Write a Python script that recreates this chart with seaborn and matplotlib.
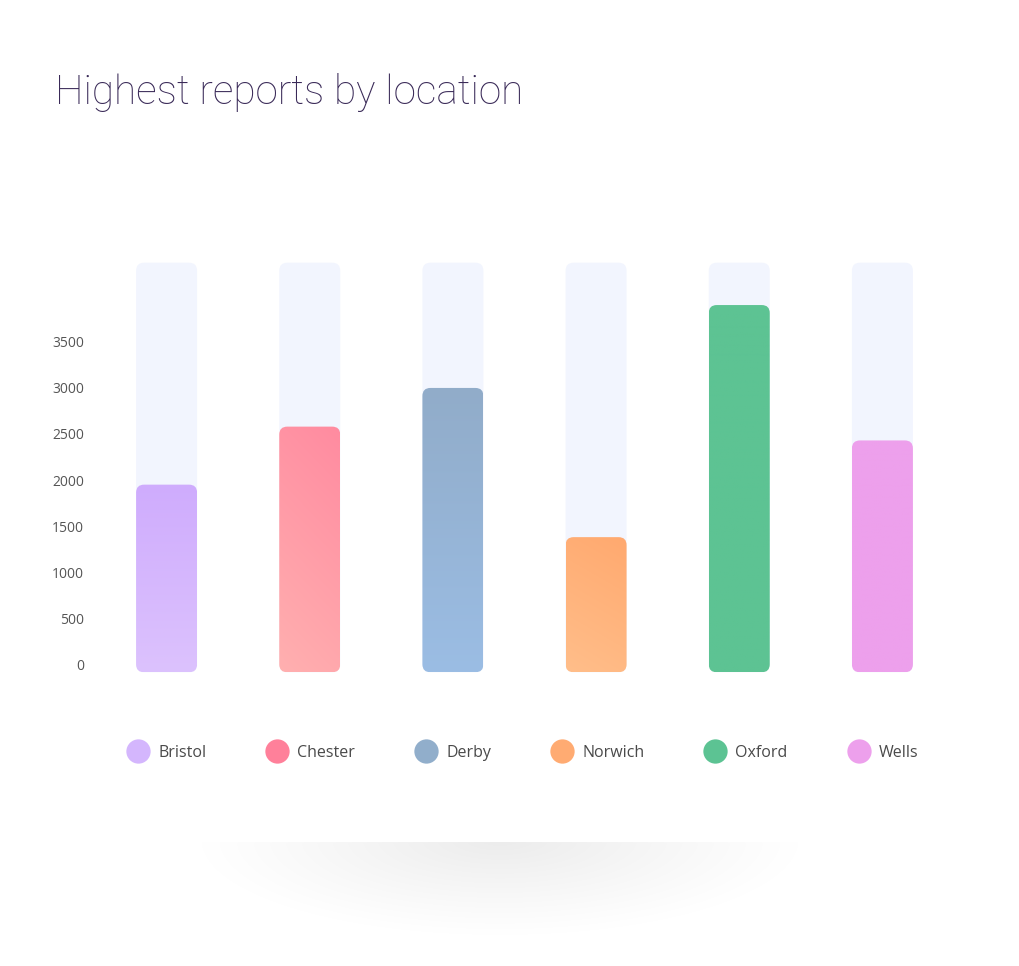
import numpy as np
import pandas as pd
import seaborn as sns
from matplotlib import colors, pyplot as plt
from matplotlib.lines import Line2D
from matplotlib.patches import FancyBboxPatch

locations = ["Bristol", "Chester", "Derby", "Norwich", "Oxford", "Wells"]
reports = [1950, 2580, 3000, 1380, 3900, 2430]
track_max = 4360
yticks = [0, 500, 1000, 1500, 2000, 2500, 3000, 3500]

# gradient colours: (top-right, bottom-left, diagonal?)
bar_grad = {
    "Bristol": ("#cfacfd", "#dcc2fd", False),
    "Chester": ("#ff8ba0", "#ffb0b0", True),
    "Derby": ("#91acc9", "#9bbde4", False),
    "Norwich": ("#ffa96f", "#ffbe8a", True),
    "Oxford": ("#5dc393", "#5dc393", False),
    "Wells": ("#eda0ec", "#eda0ec", False),
}
legend_colors = ["#d4b6fd", "#ff809a", "#91aecb", "#ffab72", "#5cc393", "#eda0ec"]

W, H = 1019, 966
fig = plt.figure(figsize=(W / 100, H / 100), dpi=100)
fig.patch.set_facecolor("white")

# card shadow under the chart
sh = fig.add_axes([170 / W, 1 - 960 / H, 660 / W, 120 / H])
gx = np.linspace(-1, 1, 400)
gy = np.linspace(0, 1, 120)
XX, YY = np.meshgrid(gx, gy)
d = np.sqrt((XX / 0.97) ** 2 + (YY / 0.85) ** 2)
shade = np.clip(1 - d, 0, 1) ** 1.1 * 0.08
shade[:3] = 0
img = np.ones((120, 400, 4))
img[..., :3] = 0.0
img[..., 3] = shade
sh.imshow(img, extent=(0, 1, 1, 0), aspect="auto", interpolation="bilinear")
sh.set_axis_off()

ax = fig.add_axes([95 / W, 1 - 673 / H, (954 - 95) / W, (673 - 259) / H])
df = pd.DataFrame({"location": locations, "reports": reports})
sns.barplot(data=df, x="location", y="reports", ax=ax, width=0.426,
            color="white", saturation=1)
ax.set_xlim(-0.5, 5.5)
ax.set_ylim(-95, 4400)

bbox = ax.get_window_extent()
sx = bbox.width / 6.0
sy = bbox.height / (4400 + 95)
aspect = sx / sy
r = 8 / sx
base = ax.get_ylim()[0] + 8

for p, loc in zip(list(ax.patches), locations):
    x0, w, h = p.get_x(), p.get_width(), p.get_height()
    p.set_visible(False)
    track = FancyBboxPatch((x0, base), w, track_max - base,
                           boxstyle=f"round,pad=0,rounding_size={r}",
                           mutation_aspect=aspect, fc="#f2f5fe", ec="none", zorder=1)
    ax.add_patch(track)
    bar = FancyBboxPatch((x0, base), w, h - base,
                         boxstyle=f"round,pad=0,rounding_size={r}",
                         mutation_aspect=aspect, fc="none", ec="none", zorder=2)
    ax.add_patch(bar)
    c_top, c_bot, diag = bar_grad[loc]
    top = np.array(colors.to_rgb(c_top))
    bot = np.array(colors.to_rgb(c_bot))
    ty = np.linspace(0, 1, 200)[:, None]
    tx = np.linspace(0, 1, 30)[None, :]
    t = ty * 0.8 + (1 - tx) * 0.2 if diag else ty + 0 * tx
    t = np.clip(t, 0, 1)
    grad = top[None, None, :] * (1 - t[..., None]) + bot[None, None, :] * t[..., None]
    im = ax.imshow(grad, extent=(x0, x0 + w, base, h), aspect="auto",
                   origin="upper", zorder=2, interpolation="bilinear")
    im.set_clip_path(bar)

ax.set_xlim(-0.5, 5.5)
ax.set_ylim(-95, 4400)
ax.set_yticks(yticks)
ax.set_yticklabels([str(v) for v in yticks], fontfamily="Open Sans",
                   fontsize=10, color="#555555")
ax.tick_params(axis="y", length=0, pad=8)
ax.set_xticks([])
ax.set_xlabel("")
ax.set_ylabel("")
for s in ax.spines.values():
    s.set_visible(False)
ax.set_facecolor("none")

fig.text(55 / W, 1 - 92 / H, "Highest reports by location", fontfamily="Roboto",
         fontweight="light", fontsize=29.2, color="#3a2a58", va="center", ha="left")

handles = [Line2D([], [], marker="o", ls="none", markersize=17.5,
                  markerfacecolor=c, markeredgecolor="none") for c in legend_colors]
leg = fig.legend(handles, locations, ncol=6, loc="center left",
                 bbox_to_anchor=(128.5 / W, 1 - 753 / H), frameon=False,
                 prop={"family": "Open Sans", "size": 11.5}, handletextpad=0.65,
                 columnspacing=3.85, handlelength=1.2, borderpad=0, borderaxespad=0)
for t in leg.get_texts():
    t.set_color("#4a4a4a")

fig.savefig("out.png", dpi=100, facecolor="white")
